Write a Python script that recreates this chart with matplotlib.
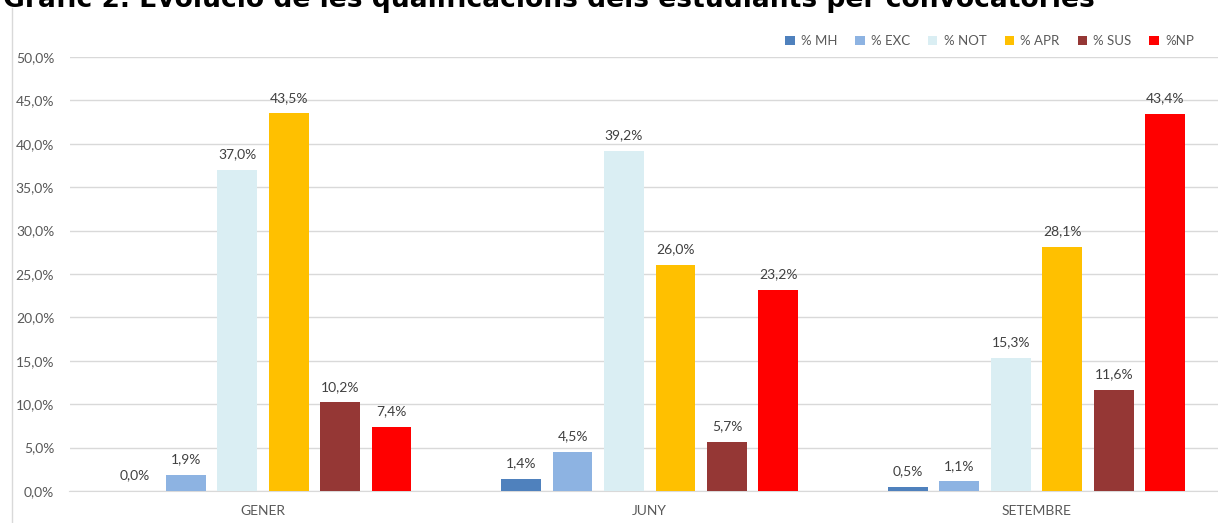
import matplotlib
matplotlib.use("Agg")
import matplotlib.pyplot as plt
import numpy as np

# Dades del gràfic
convocatories = ["GENER", "JUNY", "SETEMBRE"]
series = ["% MH", "% EXC", "% NOT", "% APR", "% SUS", "%NP"]
mh = [0.0, 1.4, 0.5]
exc = [1.9, 4.5, 1.1]
nota = [37.0, 39.2, 15.3]
apr = [43.5, 26.0, 28.1]
sus = [10.2, 5.7, 11.6]
np_ = [7.4, 23.2, 43.4]
colors = ["#4F81BD", "#8DB3E2", "#DAEEF3", "#FFC000", "#953735", "#FF0000"]
yticks = [0, 5, 10, 15, 20, 25, 30, 35, 40, 45, 50]

valors = [mh, exc, nota, apr, sus, np_]

W, H = 1218, 523
fig = plt.figure(figsize=(W / 100, H / 100), dpi=100)
plt.rcParams["font.family"] = ["Lato", "DejaVu Sans"]

# eix (s'estén més enllà del marge dret, com a la captura)
x0, x1 = 69.5, 1230
yb, yt = 491, 57
ax = fig.add_axes([x0 / W, 1 - yb / H, (x1 - x0) / W, (yb - yt) / H])

x = np.arange(len(convocatories))
step = 0.133
width = 0.103
for i, (nom, vals) in enumerate(zip(series, valors)):
    pos = x + (i - 2.5) * step
    bars = ax.bar(pos, vals, width=width, color=colors[i], label=nom, zorder=3)
    for b, v in zip(bars, vals):
        ax.annotate(f"{v:.1f}%".replace(".", ","),
                    (b.get_x() + b.get_width() / 2, v),
                    xytext=(0, 7), textcoords="offset points",
                    ha="center", va="bottom", fontsize=10, color="#404040")

ax.set_xlim(-0.5, 2.5)
ax.set_ylim(0, 50)
ax.set_yticks(yticks)
ax.set_yticklabels([f"{t:.1f}%".replace(".", ",") for t in yticks])
ax.set_xticks(x)
ax.set_xticklabels(convocatories)
ax.tick_params(axis="y", length=0, pad=11, labelsize=10, labelcolor="#595959")
ax.tick_params(axis="x", length=0, pad=10, labelsize=10, labelcolor="#595959")
ax.grid(axis="y", color="#D9D9D9", linewidth=1, zorder=0)
for s in ["top", "right", "left"]:
    ax.spines[s].set_visible(False)
ax.spines["bottom"].set_color("#D9D9D9")
ax.spines["bottom"].set_clip_on(False)

# línia de vora esquerra
fig.add_artist(plt.Line2D([12 / W, 12 / W], [0, 1 - 8 / H], color="#D9D9D9", linewidth=1))

# llegenda
fig.legend(loc="center right", bbox_to_anchor=(1206 / W, 1 - 41 / H), ncol=6,
           frameon=False, fontsize=9.5, labelcolor="#595959",
           handlelength=0.7, handleheight=0.7, handletextpad=0.5,
           columnspacing=1.35)

# títol (retallat a la part superior, com a la captura)
fig.text(3 / W, 1 - 7 / H,
         "Gràfic 2. Evolució de les qualificacions dels estudiants per convocatòries",
         family="DejaVu Sans", fontweight="bold", fontsize=19.1, color="black",
         ha="left", va="baseline")

fig.savefig("out.png", dpi=100)
